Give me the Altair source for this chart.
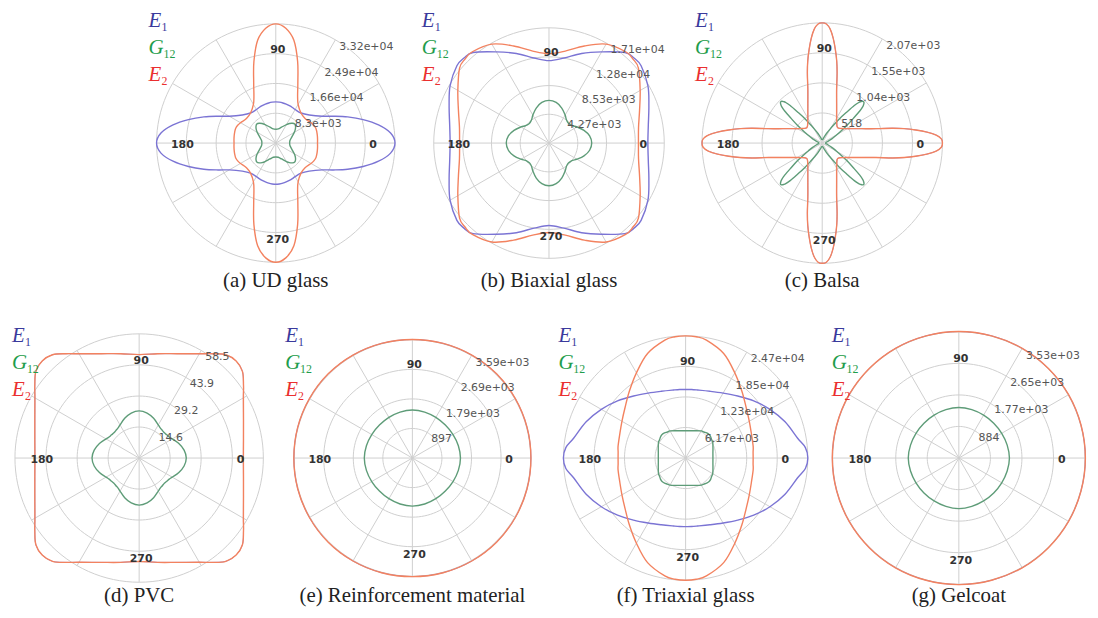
import altair as alt
import pandas as pd

# ---------------- data ----------------
CAPTIONS = ["(a) UD glass", "(b) Biaxial glass", "(c) Balsa", "(d) PVC",
            "(e) Reinforcement material", "(f) Triaxial glass", "(g) Gelcoat"]

RING_LABELS = [
    ["8.3e+03", "1.66e+04", "2.49e+04", "3.32e+04"],
    ["4.27e+03", "8.53e+03", "1.28e+04", "1.71e+04"],
    ["518", "1.04e+03", "1.55e+03", "2.07e+03"],
    ["14.6", "29.2", "43.9", "58.5"],
    ["897", "1.79e+03", "2.69e+03", "3.59e+03"],
    ["6.17e+03", "1.23e+04", "1.85e+04", "2.47e+04"],
    ["884", "1.77e+03", "2.65e+03", "3.53e+03"],
]
RING_VALUES = [
    [8300, 16600, 24900, 33200],
    [4270, 8530, 12800, 17100],
    [518, 1036, 1554, 2070],
    [14.6, 29.2, 43.9, 58.5],
    [897, 1795, 2692, 3590],
    [6170, 12350, 18520, 24700],
    [884, 1765, 2648, 3530],
]
ANGLE_LABELS = ["0", "90", "180", "270"]
ANGLE_LABEL_ANGLES = [0, 90, 180, 270]
SPOKE_ANGLES = [0, 30, 60, 90, 120, 150, 180, 210, 240, 270, 300, 330]

# quarter-circle readings (angle in degrees 0..90); curves are mirror-symmetric
# about the 0-180 and 90-270 axes
# (a) UD glass
A_ANG = [0, 5, 10, 15, 20, 25, 30, 40, 50, 60, 65, 70, 75, 80, 85, 90]
A_E1 = [33200, 32090, 29050, 25180, 21300, 17710, 14940, 12170, 10930, 10790,
        10930, 11070, 11210, 11340, 11430, 11480]
A_E2 = [11620, 11680, 11760, 11840, 11900, 11700, 11340, 10650, 10930, 12450,
        14390, 17980, 23520, 29050, 32090, 33200]
A_G_ANG = [0, 10, 20, 30, 35, 40, 45, 50, 55, 60, 70, 80, 90]
A_G12 = [3870, 4010, 4700, 5950, 6640, 7190, 7470, 7190, 6640, 5950, 4700, 4010, 3870]

# (b) Biaxial glass
B_ANG = [0, 10, 20, 30, 40, 45, 50, 60, 70, 80, 90]
B_E1 = [14670, 14960, 15770, 16950, 17840, 17840, 17540, 15620, 14150, 12820, 12230]
B_E2 = [13270, 13490, 14300, 15620, 17320, 17620, 17690, 16950, 15330, 13860, 13270]
B_G_ANG = [0, 10, 20, 30, 35, 40, 45, 50, 55, 60, 70, 80, 90]
B_G12 = [6340, 6120, 5530, 4790, 4420, 4200, 4130, 4200, 4420, 4790, 5530, 6120, 6340]

# (c) Balsa
C_ANG = [0, 2, 4, 6, 8, 10, 12, 15, 20, 25, 30, 35, 40, 45, 50, 55, 60, 65, 70, 75,
         78, 80, 82, 84, 86, 88, 90]
C_E2 = [2070, 2052, 1967, 1813, 1625, 1436, 1231, 958, 725, 587, 496, 436, 393, 376,
        393, 436, 496, 587, 725, 958, 1231, 1436, 1625, 1813, 1967, 2052, 2070]
C_E1 = [2070, 2052, 1967, 1813, 1625, 1436, 1231, 958, 725, 587, 496, 436, 393, 376,
        393, 436, 496, 587, 725, 958, 1231, 1436, 1625, 1813, 1967, 2052, 2070]
C_G_ANG = [0, 9, 16, 24, 29, 32, 35.5, 38.5, 40.5, 42, 43, 44, 45, 46, 47, 48, 49.5,
           51.5, 54.5, 58, 61, 66, 74, 81, 90]
C_G12 = [60, 63, 97, 180, 270, 355, 520, 690, 850, 940, 975, 1000, 1009, 1000, 975,
         940, 850, 690, 520, 355, 270, 180, 97, 63, 60]

# (d) PVC
D_ANG = [0, 10, 20, 30, 35, 40, 45, 50, 55, 60, 70, 80, 90]
D_E1 = [49.1, 49.9, 52.3, 56.7, 60.0, 63.5, 64.6, 63.5, 60.0, 56.7, 52.3, 49.9, 48.7]
D_E2 = [49.1, 49.9, 52.3, 56.7, 60.0, 63.5, 64.6, 63.5, 60.0, 56.7, 52.3, 49.9, 48.7]
D_G12 = [22.2, 21.5, 19.9, 18.0, 17.3, 17.0, 16.8, 17.0, 17.3, 18.0, 19.9, 21.5, 22.2]

# (e) Reinforcement material
E_ANG = [0, 15, 30, 45, 60, 75, 90]
E_E1 = [3600, 3605, 3610, 3615, 3610, 3605, 3600]
E_E2 = [3600, 3605, 3610, 3615, 3610, 3605, 3600]
E_G12 = [1460, 1445, 1425, 1415, 1425, 1445, 1460]

# (f) Triaxial glass
F_ANG = [0, 5, 10, 20, 30, 40, 50, 60, 70, 80, 85, 90]
F_E1 = [24700, 24300, 22990, 21390, 19680, 17970, 16370, 15160, 14360, 13960, 13900, 13860]
F_E2 = [13650, 13690, 13860, 14160, 14860, 15960, 17670, 19880, 22490, 24200, 24600, 24700]
F_G_ANG = [0, 10, 20, 30, 35, 40, 45, 50, 55, 60, 70, 80, 90]
F_G12 = [5520, 5600, 5880, 6330, 6430, 6630, 6730, 6630, 6430, 6330, 5880, 5600, 5520]

# (g) Gelcoat
G_ANG = [0, 15, 30, 45, 60, 75, 90]
G_E1 = [3540, 3540, 3545, 3545, 3545, 3540, 3540]
G_E2 = [3540, 3540, 3545, 3545, 3545, 3540, 3540]
G_G12 = [1415, 1400, 1385, 1380, 1385, 1400, 1415]

PANEL_SERIES = [
    {"E1": (A_ANG, A_E1), "G12": (A_G_ANG, A_G12), "E2": (A_ANG, A_E2)},
    {"E1": (B_ANG, B_E1), "G12": (B_G_ANG, B_G12), "E2": (B_ANG, B_E2)},
    {"E1": (C_ANG, C_E1), "G12": (C_G_ANG, C_G12), "E2": (C_ANG, C_E2)},
    {"E1": (D_ANG, D_E1), "G12": (D_ANG, D_G12), "E2": (D_ANG, D_E2)},
    {"E1": (E_ANG, E_E1), "G12": (E_ANG, E_G12), "E2": (E_ANG, E_E2)},
    {"E1": (F_ANG, F_E1), "G12": (F_G_ANG, F_G12), "E2": (F_ANG, F_E2)},
    {"E1": (G_ANG, G_E1), "G12": (G_ANG, G_G12), "E2": (G_ANG, G_E2)},
]

# ---------------- styling / layout ----------------
SERIES_ORDER = ["E1", "G12", "E2"]
LINE_COLORS = {"E1": "#7b74d4", "G12": "#5e9c78", "E2": "#f3825f"}
LEGEND = [("E", "1", "#3a3a9c"), ("G", "12", "#1f9d4c"), ("E", "2", "#ea2f2f")]
GRID = "#cfcfcf"
RPX = [120, 116, 121, 125, 119, 123, 127]  # outer-ring radius in pixels
W, H = 264, 284
CALC = dict(px="datum.r * cos(datum.ang * PI / 180)",
            py="datum.r * sin(datum.ang * PI / 180)")


def mirror(angles, values):
    pts = {}
    for a, v in zip(angles, values):
        for t in (a, 180 - a, 180 + a, 360 - a):
            pts[t % 360] = v
    return sorted(pts.items())


def panel(i):
    rings = RING_VALUES[i]
    rmax = rings[-1]
    D = rmax * (W / 2) / RPX[i]
    yb = D - 2 * D * H / W
    X = alt.X("px:Q", scale=alt.Scale(domain=[-D, D], nice=False, zero=False), axis=None)
    Y = alt.Y("py:Q", scale=alt.Scale(domain=[yb, D], nice=False, zero=False), axis=None)

    ring_df = pd.DataFrame([{"gid": k, "ang": a, "r": rv}
                            for k, rv in enumerate(rings) for a in range(0, 360, 3)])
    spoke_df = pd.DataFrame([{"gid": a, "ang": a, "r": rr}
                             for a in SPOKE_ANGLES for rr in (0, rmax)])
    layers = [
        alt.Chart(ring_df).transform_calculate(**CALC)
        .mark_line(interpolate="linear-closed", color=GRID, strokeWidth=1)
        .encode(X, Y, detail="gid:N", order="ang:Q"),
        alt.Chart(spoke_df).transform_calculate(**CALC)
        .mark_line(color=GRID, strokeWidth=1)
        .encode(X, Y, detail="gid:N", order="r:Q"),
    ]
    same = PANEL_SERIES[i]["E1"][1] == PANEL_SERIES[i]["E2"][1]
    for s in SERIES_ORDER:
        angs, vals = PANEL_SERIES[i][s]
        cdf = pd.DataFrame([{"ang": t, "r": v} for t, v in mirror(angs, vals)])
        sw = 0.8 if (s == "E1" and same) else 1.4
        layers.append(
            alt.Chart(cdf).transform_calculate(**CALC)
            .mark_line(interpolate="cardinal-closed", color=LINE_COLORS[s], strokeWidth=sw)
            .encode(X, Y, order="ang:Q"))

    rl_df = pd.DataFrame({"txt": RING_LABELS[i], "r": rings, "ang": [60] * 4})
    layers.append(
        alt.Chart(rl_df).transform_calculate(**CALC)
        .mark_text(align="left", baseline="middle", dx=4, dy=7, font="DejaVu Sans",
                   fontSize=11, color="#555555")
        .encode(X, Y, text="txt:N"))
    al_df = pd.DataFrame({"txt": ANGLE_LABELS, "ang": ANGLE_LABEL_ANGLES,
                          "r": [0.8 * rmax] * 4})
    layers.append(
        alt.Chart(al_df).transform_calculate(**CALC)
        .mark_text(align="center", baseline="middle", dx=2, dy=2, font="DejaVu Sans",
                   fontWeight="bold", fontSize=11, color="#333333")
        .encode(X, Y, text="txt:N"))

    # legend (top-left) and caption
    cx = W / 2
    for k, (main, sub, col) in enumerate(LEGEND):
        base_y = cx - 117 + k * 27.5
        lx = cx - 128
        layers.append(
            alt.Chart(pd.DataFrame({"t": [main]}))
            .mark_text(align="left", baseline="alphabetic", font="Liberation Serif",
                       fontStyle="italic", fontSize=21, color=col)
            .encode(x=alt.value(lx), y=alt.value(base_y), text="t:N"))
        layers.append(
            alt.Chart(pd.DataFrame({"t": [sub]}))
            .mark_text(align="left", baseline="alphabetic", font="Liberation Serif",
                       fontSize=12, color=col)
            .encode(x=alt.value(lx + (15 if main == "G" else 13)), y=alt.value(base_y + 4),
                    text="t:N"))
    layers.append(
        alt.Chart(pd.DataFrame({"t": [CAPTIONS[i]]}))
        .mark_text(align="center", baseline="middle", font="Liberation Serif",
                   fontSize=21, color="#222222")
        .encode(x=alt.value(cx), y=alt.value(271), text="t:N"))
    return alt.layer(*layers).properties(width=W, height=H)


row1 = alt.hconcat(*[panel(i) for i in range(3)], spacing=11)
row2 = alt.hconcat(*[panel(i) for i in range(3, 7)], spacing=11)
chart = (alt.vconcat(row1, row2, spacing=31, center=True)
         .properties(padding=0)
         .configure_view(stroke=None))
chart.save("out.html", embed_options={"renderer": "svg", "actions": False})
